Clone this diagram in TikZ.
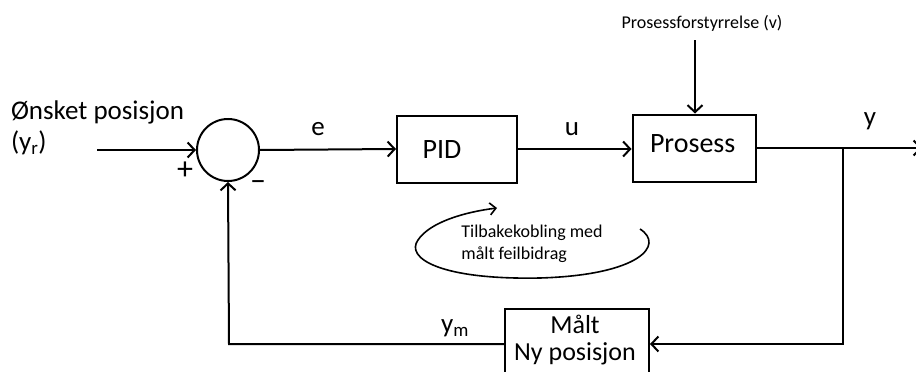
\documentclass[tikz,border=0pt]{standalone}
\usepackage{fontspec}
\setmainfont{Carlito}
\usetikzlibrary{arrows.meta}
\begin{document}
\begin{tikzpicture}[x=1pt,y=-1pt,
  line width=2pt,
  arr/.style={-{Straight Barb[length=7pt,width=15pt,line width=2pt]}},
  blockbox/.style={draw,rectangle,minimum width=120pt,minimum height=67pt,inner sep=0pt},
  lbl/.style={font=\fontsize{27}{30}\selectfont,inner sep=0pt},
  small/.style={font=\fontsize{18}{22}\selectfont,inner sep=0pt,align=left}]
\useasboundingbox (0,0) rectangle (916,372);
\clip (0,0) rectangle (916,372);
% texts
\node[lbl,anchor=west] (want) at (10,112) {Ønsket posisjon};
\node[lbl,anchor=west] (yr) at (10,143) {(y\textsubscript{r})};
\coordinate (inL) at (97,150);
% summing junction
\node[draw,circle,minimum size=62pt,inner sep=0pt] (sum) at (228,150) {};
\node[lbl,font=\fontsize{32}{32}\selectfont] (plus) at (185,171) {+};
\node[lbl,font=\fontsize{32}{32}\selectfont] (minus) at (258,186) {\textendash};
% PID
\node[blockbox] (pid) at (457,149) {};
\node[lbl,font=\fontsize{28}{30}\selectfont] (pidt) at (442,150) {PID};
% Process
\node[blockbox,minimum width=123pt] (proc) at (694,148) {};
\node[lbl,anchor=west,font=\fontsize{28}{30}\selectfont] (proct) at (649,144) {Prosess};
% disturbance
\node[small] (dist) at (702,23) {Prosessforstyrrelse (v)};
\coordinate (distS) at (695,40);
% output
\coordinate (branch) at (843,148);
\coordinate (outE) at (922,148);
\coordinate (fbR) at (843,344);
\coordinate (fbL) at (229,344);
% measured box
\node[draw,rectangle,minimum width=144pt,minimum height=90pt,inner sep=0pt,anchor=north west] (meas) at (504,308) {};
\node[lbl,align=center,font=\fontsize{26}{27}\selectfont] (meast) at (575,340) {Målt\\Ny posisjon};
% labels
\node[lbl] (e) at (318,129) {e};
\node[lbl] (u) at (572,129) {u};
\node[lbl] (y) at (870,121) {y};
\node[lbl] (ym) at (455,328) {y\textsubscript{m}};
% connectors
\draw[arr] (inL) -- (sum.west);
\draw[arr] (sum.east) -- (pid.west);
\draw[arr] (pid.east) -- (proc.west |- pid.east);
\draw[arr] (distS) -- (distS |- proc.north);
\draw[arr] (proc.east |- branch) -- (outE);
\draw[arr] (branch) -- (fbR) -- (meas.east |- fbR);
\draw[arr] (meas.west |- fbL) -- (fbL) -- (sum.south);
% loop annotation
\node[small] (loop) at (532,244) {Tilbakekobling med\\målt feilbidrag};
\draw[line width=1.6pt,-{Straight Barb[length=6pt,width=12pt,line width=1.6pt]}]
  (640,229) .. controls (665,245) and (640,275) .. (540,278)
  .. controls (440,280) and (405,258) .. (418,240)
  .. controls (430,222) and (465,212) .. (497,208);
\end{tikzpicture}
\end{document}
